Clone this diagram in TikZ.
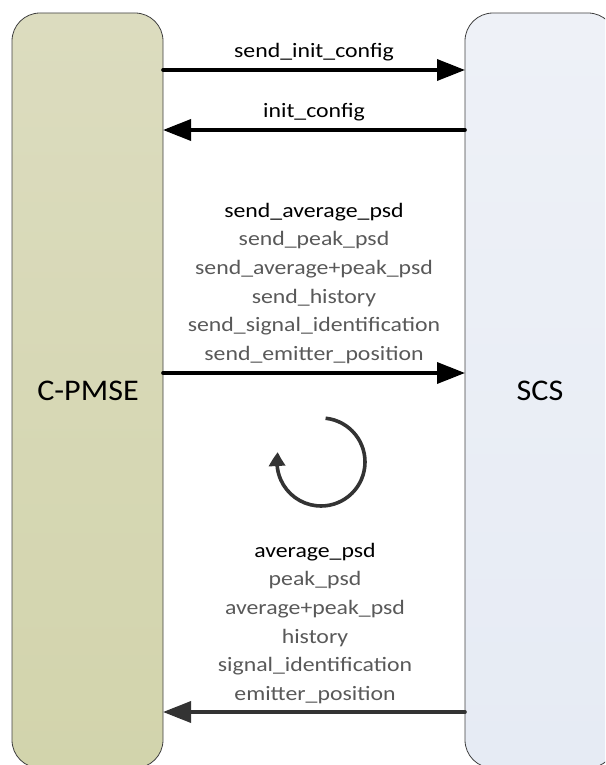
\documentclass[tikz,border=0pt]{standalone}
\usepackage{fontspec}
\setmainfont{Carlito}
\newfontfamily\lblfont[FakeStretch=1.16]{Carlito}
\newfontfamily\lanefont[FakeStretch=1.07]{Carlito}
\usetikzlibrary{arrows.meta,bending}
\definecolor{lanecolA}{HTML}{DCDCBF}
\definecolor{lanecolB}{HTML}{D2D4AC}
\definecolor{lanecolC}{HTML}{EEF1F7}
\definecolor{lanecolD}{HTML}{E6EBF4}
\definecolor{msggray}{HTML}{595959}
\definecolor{loopgray}{HTML}{333333}
\tikzset{
  lane/.style={draw=black!75, line width=0.8pt, rounded corners=28pt},
  msg/.style={line width=3.6pt, line cap=round, -{Triangle[length=28pt,width=21pt]}},
  lbl/.style={font=\lblfont\fontsize{20.5}{28.7}\selectfont, align=center, inner sep=0pt},
  lanetext/.style={font=\lanefont\fontsize{30}{32}\selectfont, inner sep=0pt}
}
\begin{document}
\begin{tikzpicture}[x=1pt,y=-1pt]
\useasboundingbox (0,0) rectangle (605,765);
% the two lanes
\begin{scope}
\clip (0,0) rectangle (605,765);
\shade[lane, top color=lanecolA, bottom color=lanecolB] (12,13) rectangle (163,768);
\shade[lane, top color=lanecolC, bottom color=lanecolD] (465,13) rectangle (616,768);
\end{scope}
\node[lanetext, anchor=base] (cpmse) at (88,400) {C-PMSE};
\node[lanetext, anchor=base] (scs) at (540,400) {SCS};
% attachment points on the lane borders
\coordinate (l1) at (163,70);  \coordinate (r1) at (465,70);
\coordinate (l2) at (163,130); \coordinate (r2) at (465,130);
\coordinate (l3) at (163,373); \coordinate (r3) at (465,373);
\coordinate (l4) at (163,712); \coordinate (r4) at (465,712);
% initial configuration exchange
\draw[msg] (l1) -- (r1);
\node[lbl] (m1) at (314,52) {send\_init\_config};
\draw[msg] (r2) -- (l2);
\node[lbl] (m2) at (314,112) {init\_config};
% request
\node[lbl, anchor=south] (m3) at (314,364) {send\_average\_psd\\
  \textcolor{msggray}{send\_peak\_psd}\\
  \textcolor{msggray}{send\_average+peak\_psd}\\
  \textcolor{msggray}{send\_history}\\
  \textcolor{msggray}{send\_signal\_identification}\\
  \textcolor{msggray}{send\_emitter\_position}};
\draw[msg] (l3) -- (r3);
% repeat loop (clockwise, arrow pointing up on the left)
\coordinate (lc) at (321,462);
\draw[loopgray, line width=3.6pt, -{Triangle[length=14pt,width=16pt,bend]}]
  (lc) ++(-84:44) arc[start angle=-84, end angle=193, radius=44];
% reply
\node[lbl, anchor=south] (m4) at (315,704) {average\_psd\\
  \textcolor{msggray}{peak\_psd}\\
  \textcolor{msggray}{average+peak\_psd}\\
  \textcolor{msggray}{history}\\
  \textcolor{msggray}{signal\_identification}\\
  \textcolor{msggray}{emitter\_position}};
\draw[msg, draw=loopgray, fill=loopgray] (r4) -- (l4);
\end{tikzpicture}
\end{document}
